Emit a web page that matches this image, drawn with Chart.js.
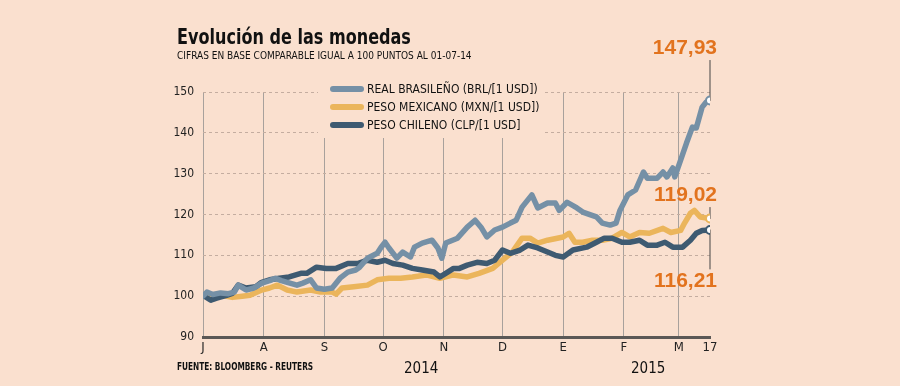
<!DOCTYPE html>
<html>
<head>
<meta charset="utf-8">
<script src="https://cdn.jsdelivr.net/npm/chart.js@4.4.1/dist/chart.umd.min.js"></script>
<style>
  body { margin: 0; background: #fae0cf; }
  #wrap { position: relative; width: 900px; height: 386px; font-family: 'Liberation Sans Narrow', 'DejaVu Sans Condensed', sans-serif; color: #111; }
  #wrap div { position: absolute; line-height: 1; white-space: nowrap; transform-origin: 0 0; }
  .title { left: 177px; top: 27px; font-size: 21px; font-weight: bold; transform: scaleX(0.85); }
  .sub { left: 177px; top: 50px; font-size: 11px; transform: scaleX(0.91); }
  .src { left: 177px; top: 362px; font-size: 10px; font-weight: bold; transform: scaleX(0.82); }
  .year { top: 361px; font-size: 15px; }
</style>
</head>
<body>
<div id="wrap">
  <canvas id="chart" width="900" height="386"></canvas>
  <div class="title">Evolución de las monedas</div>
  <div class="sub">CIFRAS EN BASE COMPARABLE IGUAL A 100 PUNTOS AL 01-07-14</div>
  <div class="src">FUENTE: BLOOMBERG - REUTERS</div>
  <div class="year" style="left:404px">2014</div>
  <div class="year" style="left:631px">2015</div>
</div>
<script>
// days counted from 01-07-2014
const tickDays = [0, 31, 62, 92, 123, 153, 184, 215, 243, 259];
const tickLabels = ['J', 'A', 'S', 'O', 'N', 'D', 'E', 'F', 'M', '17'];
const yTicks = [90, 100, 110, 120, 130, 140, 150];

const seriesNames = ['REAL BRASILEÑO (BRL/[1 USD])', 'PESO MEXICANO (MXN/[1 USD])', 'PESO CHILENO (CLP/[1 USD]'];
const seriesColors = ['#7590a6', '#ebb55b', '#3e5a71'];
const endLabels = ['147,93', '119,02', '116,21'];

const brlDays = [0,2,5,9,13,16,18,22,26,30,34,37,40,43,48,51,55,58,62,66,70,74,78,80,84,89,91,93,95,99,102,106,108,112,117,120,122,124,130,135,139,142,145,149,153,157,160,163,168,171,176,180,182,186,191,194,198,201,204,208,211,213,217,221,225,227,232,235,237,240,241,244,247,250,252,255,257,259];
const brlValues = [100,101,100.4,100.8,100.6,101,102.7,101.5,102,103.2,103.8,104.4,103.8,103.4,102.7,103.2,104,102,101.7,102,104.4,105.9,106.4,107.1,109.3,110.5,112,113.2,111.8,109.3,110.8,109.6,112,113,113.7,111.8,109.3,113,114.2,116.9,118.6,116.9,114.5,116.2,116.9,117.9,118.6,121.8,124.8,121.6,122.8,122.8,121,123,121.6,120.6,119.9,119.4,117.9,117.4,117.9,121,124.8,126,130.4,128.9,128.9,130.4,129.2,131.4,129.2,133.3,137.5,141.4,141.2,146.3,147.5,147.93];

const mxnDays = [0,5,9,15,20,24,30,34,38,43,48,55,60,66,68,71,77,84,89,95,101,107,114,121,128,135,141,148,153,158,163,167,171,176,181,184,187,190,194,199,204,209,214,218,223,228,235,239,244,246,249,251,254,259];
const mxnValues = [100.2,100,100.2,99.7,100,100.2,101.5,102,102.7,101.5,101,101.5,101,101,100.5,102,102.3,102.7,104,104.4,104.4,104.7,105.2,104.4,105.2,104.7,105.6,106.8,108.8,110.8,114.2,114.2,113,113.7,114.2,114.5,115.4,113.2,113.2,113.7,113.7,114.2,115.6,114.5,115.6,115.4,116.6,115.6,116.1,117.9,120.3,121,119.4,119.02];

const clpDays = [0,4,7,12,15,18,22,27,30,34,39,44,50,53,58,63,68,74,79,84,89,93,97,102,107,112,118,121,125,128,131,135,140,145,149,153,157,162,166,171,176,180,184,189,196,201,205,209,214,218,223,227,232,236,240,245,249,252,255,259];
const clpValues = [100.2,99,99.5,100.2,100.7,102.7,102,102.3,103.4,104,104.4,104.7,105.6,105.6,107.1,106.8,106.8,108,108,108.8,108.3,108.8,108,107.6,106.8,106.4,105.9,104.7,105.9,106.8,106.8,107.6,108.3,108,108.8,111.3,110.5,111.3,112.5,111.8,110.8,110,109.6,111.3,112,113.2,114.2,114.2,113.2,113.2,113.7,112.5,112.5,113.2,112,112,113.7,115.4,116.1,116.21];

const bg = '#fae0cf';
const orange = '#e2731e';
const narrow = "'Liberation Sans Narrow', 'DejaVu Sans Condensed', sans-serif";

function toPoints(days, values) {
  return days.map((d, i) => ({ x: d, y: values[i] }));
}

function makeDataset(idx, days, values) {
  return {
    label: seriesNames[idx],
    data: toPoints(days, values),
    borderColor: seriesColors[idx],
    borderWidth: 5.5,
    borderCapStyle: 'round',
    borderJoinStyle: 'round',
    tension: 0,
    pointRadius: ctx => ctx.dataIndex === days.length - 1 ? 4 : 0,
    pointBackgroundColor: '#ffffff',
    pointBorderColor: seriesColors[idx],
    pointBorderWidth: 2,
    order: idx === 0 ? 0 : (idx === 2 ? 1 : 2)
  };
}

// legend box and end labels, drawn over the grid but under the lines
const overlay = {
  id: 'overlay',
  beforeDatasetsDraw(chart) {
    const c = chart.ctx;
    const xs = chart.scales.x, ys = chart.scales.y;
    c.save();
    c.fillStyle = bg;
    c.fillRect(318, 82, 226, 56);
    c.font = '12px ' + narrow;
    c.textBaseline = 'middle';
    seriesNames.forEach((name, i) => {
      const y = 89 + i * 18;
      c.strokeStyle = seriesColors[i];
      c.lineWidth = 6;
      c.lineCap = 'round';
      c.beginPath();
      c.moveTo(333, y);
      c.lineTo(361, y);
      c.stroke();
      c.fillStyle = '#111';
      c.fillText(name, 367, y + 1);
    });

    const x = xs.getPixelForValue(tickDays[tickDays.length - 1]);
    const ends = [brlValues[brlValues.length - 1], mxnValues[mxnValues.length - 1], clpValues[clpValues.length - 1]];
    const offsets = [-52, -23, 51];
    c.strokeStyle = '#444';
    c.lineWidth = 1;
    c.font = 'bold 21px Liberation Sans, Arial, sans-serif';
    c.textAlign = 'right';
    ends.forEach((v, i) => {
      const py = ys.getPixelForValue(v);
      const ty = py + offsets[i];
      c.beginPath();
      if (offsets[i] < 0) { c.moveTo(x, ty + 12); c.lineTo(x, py); }
      else { c.moveTo(x, py); c.lineTo(x, ty - 12); }
      c.stroke();
      c.fillStyle = orange;
      c.fillText(endLabels[i], 717, ty);
    });
    c.restore();
  }
};

new Chart(document.getElementById('chart'), {
  type: 'line',
  data: {
    datasets: [
      makeDataset(0, brlDays, brlValues),
      makeDataset(1, mxnDays, mxnValues),
      makeDataset(2, clpDays, clpValues)
    ]
  },
  options: {
    responsive: false,
    animation: false,
    events: [],
    layout: { padding: { top: 92, right: 190, bottom: 0, left: 0 } },
    plugins: { legend: { display: false }, tooltip: { enabled: false } },
    scales: {
      x: {
        type: 'linear',
        min: tickDays[0],
        max: tickDays[tickDays.length - 1],
        afterFit: s => { s.height = 49; },
        afterBuildTicks: s => { s.ticks = tickDays.map(v => ({ value: v })); },
        ticks: {
          padding: 3,
          autoSkip: false,
          maxRotation: 0,
          color: '#222',
          font: { family: narrow, size: 13 },
          callback: (v, i) => tickLabels[i]
        },
        grid: {
          drawTicks: false,
          color: ctx => ctx.index === tickDays.length - 1 ? 'rgba(0,0,0,0)' : '#a8a19c',
          lineWidth: 1
        },
        border: { display: true, color: '#5b5856', width: 3 }
      },
      y: {
        min: 90,
        max: 150,
        afterFit: s => { s.width = 203; },
        afterBuildTicks: s => { s.ticks = yTicks.map(v => ({ value: v })); },
        ticks: {
          padding: 9,
          color: '#222',
          font: { family: narrow, size: 12 }
        },
        grid: {
          drawTicks: false,
          color: ctx => ctx.tick && ctx.tick.value === 90 ? 'rgba(0,0,0,0)' : '#c4ada0',
          lineWidth: 1
        },
        border: { display: false, dash: [3, 3] }
      }
    }
  },
  plugins: [overlay]
});
</script>
</body>
</html>
